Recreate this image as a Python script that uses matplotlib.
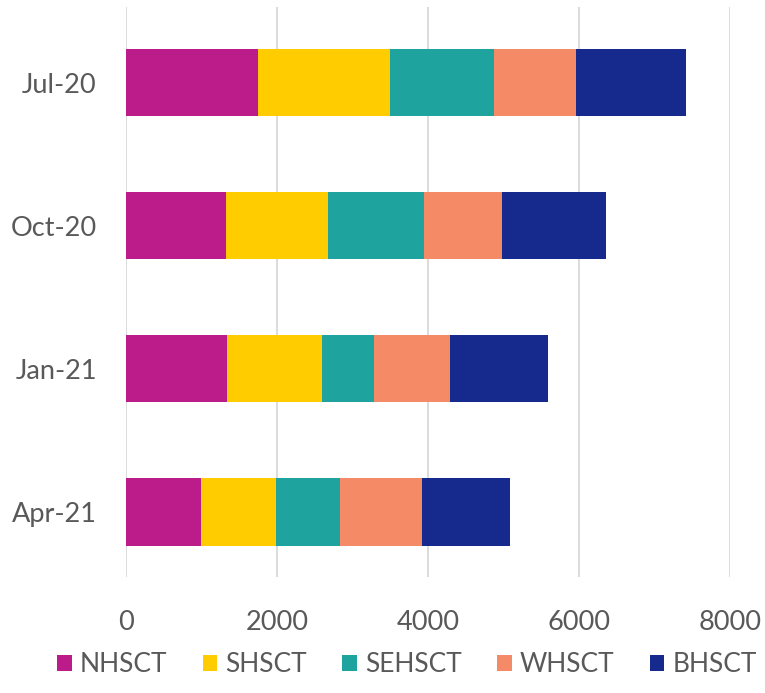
import matplotlib
matplotlib.use("Agg")
import matplotlib.pyplot as plt
import numpy as np

categories = ["Jul-20", "Oct-20", "Jan-21", "Apr-21"]
series_names = ["NHSCT", "SHSCT", "SEHSCT", "WHSCT", "BHSCT"]
nhsct = [1743, 1318, 1344, 997]
shsct = [1753, 1354, 1249, 987]
sehsct = [1375, 1276, 688, 845]
whsct = [1087, 1028, 1013, 1092]
bhsct = [1459, 1386, 1297, 1166]
colors = ["#BC1C8A", "#FFCC00", "#1EA39F", "#F58B66", "#152A8C"]
x_ticks = [0, 2000, 4000, 6000, 8000]

plt.rcParams["font.family"] = ["Lato", "DejaVu Sans"]
text_color = "#595959"

fig = plt.figure(figsize=(7.65, 6.93), dpi=100)
ax = fig.add_axes([126/765, 1 - 577/693, (730-126)/765, 570/693])

y = np.arange(len(categories))
left = np.zeros(len(categories))
for name, vals, c in zip(series_names, [nhsct, shsct, sehsct, whsct, bhsct], colors):
    ax.barh(y, vals, left=left, height=0.47, color=c, label=name, zorder=3)
    left += np.array(vals)

ax.set_xlim(0, 8000)
ax.set_ylim(3.455, -0.53)
ax.set_xticks(x_ticks)
ax.set_xticklabels([str(t) for t in x_ticks])
ax.set_yticks(y)
ax.set_yticklabels(categories)
ax.tick_params(axis="both", length=0, labelsize=19.5, labelcolor=text_color)
ax.tick_params(axis="x", pad=24)
ax.tick_params(axis="y", pad=21)
ax.grid(axis="x", color="#D9D9D9", linewidth=1.3, zorder=0)
for s in ax.spines.values():
    s.set_visible(False)

fig.legend(loc="center", bbox_to_anchor=(0.532, 1 - 665/693), ncol=5, frameon=False,
           fontsize=19, labelcolor=text_color, handlelength=0.55, handleheight=0.55,
           handletextpad=0.3, columnspacing=1.35, borderaxespad=0)

fig.savefig("out.png", dpi=100)
